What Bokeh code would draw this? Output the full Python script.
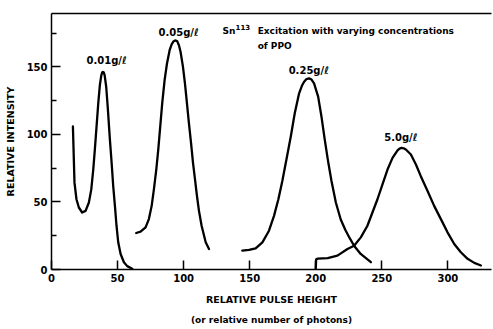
from bokeh.plotting import figure
from bokeh.models import Range1d, LinearAxis, FixedTicker, Label, Title, ColumnDataSource
from bokeh.core.properties import value
from bokeh.embed import file_html
from bokeh.resources import INLINE

FONT = "DejaVu Sans"

# 0.01 g/l
c1_x = [16.2, 17.4, 18.9, 20.7, 23.2, 25.8, 28.3, 30.1, 31.6, 32.8, 34.1, 35.4, 36.6, 37.6, 38.3, 38.9,
        39.6, 40.2, 41.4, 42.7, 44.2, 45.5, 46.7, 48.0, 49.2, 50.5, 52.3, 54.8, 57.3, 61.1]
c1_y = [105.9, 64.3, 52.0, 45.9, 42.2, 43.4, 49.6, 59.3, 74.0, 88.8, 105.9, 123.1, 136.5, 143.2, 145.7, 146.3,
        145.8, 143.9, 135.3, 118.2, 96.1, 79.0, 61.8, 47.1, 32.4, 20.1, 11.5, 5.4, 2.5, 0.5]
# 0.05 g/l
c2_x = [64.1, 67.4, 71.2, 73.7, 75.8, 77.5, 79.3, 80.8, 82.3, 83.8, 85.6, 87.4, 89.4, 91.0, 92.5, 93.9,
        95.2, 96.5, 97.7, 99.5, 101.0, 102.5, 104.0, 105.6, 107.1, 108.6, 110.1, 111.6, 113.6, 116.7, 119.2]
c2_y = [27.0, 28.0, 31.2, 37.3, 47.1, 59.3, 74.0, 88.8, 105.9, 123.1, 140.2, 152.5, 162.3, 166.8, 169.0, 169.6,
        168.9, 165.8, 161.0, 150.0, 137.8, 123.1, 108.4, 93.7, 79.0, 66.7, 54.4, 43.4, 32.4, 20.1, 15.2]
# 0.25 g/l
c3_x = [144.4, 149.5, 154.5, 159.6, 164.6, 168.4, 171.7, 174.7, 177.8, 181.1, 184.1, 187.4, 189.5, 191.2, 193.0,
        194.9, 196.8, 198.7, 201.8, 204.3, 206.8, 209.3, 211.9, 215.2, 218.9, 222.5, 225.8, 229.0, 234.0, 241.7]
c3_y = [14.0, 14.5, 15.7, 20.1, 28.7, 39.7, 52.0, 65.5, 81.4, 98.5, 115.7, 130.4, 136.0, 139.0, 141.0,
        141.5, 140.6, 137.8, 128.0, 113.3, 96.1, 80.2, 65.5, 49.6, 37.0, 29.0, 23.0, 17.6, 11.5, 5.4]
# 5.0 g/l
c4_x = [200.0, 200.3, 201.5, 209.0, 216.4, 224.0, 229.0, 234.1, 239.1, 242.9, 246.7, 250.5, 254.3, 258.1,
        261.9, 263.4, 264.9, 266.5, 268.2, 272.0, 275.8, 279.5, 284.6, 289.6, 294.7, 299.7, 304.8, 309.8,
        314.9, 320.0, 325.0]
c4_y = [0.5, 7.6, 8.0, 8.4, 10.3, 15.2, 17.6, 23.8, 32.4, 42.2, 52.0, 63.0, 74.0, 82.6,
        88.2, 89.5, 90.0, 89.7, 88.8, 85.1, 77.7, 69.1, 58.1, 47.1, 37.3, 27.5, 18.9, 12.8,
        7.9, 4.9, 3.0]

x_ticks = [0, 50, 100, 150, 200, 250, 300]
y_ticks = [0, 50, 100, 150]
y_minor = [25, 75, 125, 175]

peak_text = ["0.01g/\u2113", "0.05g/\u2113", "0.25g/\u2113", "5.0g/\u2113"]
peak_x = [41.7, 96.2, 194.7, 264.4]
peak_y = [155.0, 175.5, 147.6, 97.5]

p = figure(width=493, height=329, output_backend="svg", toolbar_location=None,
           x_range=Range1d(0, 333), y_range=Range1d(0, 189.5),
           min_border_left=51, min_border_right=2, min_border_top=13, min_border_bottom=58)
p.outline_line_color = None
p.grid.visible = False

for xs, ys in [(c1_x, c1_y), (c2_x, c2_y), (c3_x, c3_y), (c4_x, c4_y)]:
    p.line(xs, ys, line_color="black", line_width=2.3, line_join="round", line_cap="round")

def style_axis(ax):
    ax.axis_line_width = 1.5
    ax.axis_line_color = "black"
    ax.major_tick_in = 9
    ax.major_tick_out = 0
    ax.major_tick_line_width = 1.5
    ax.minor_tick_in = 5
    ax.minor_tick_out = 0
    ax.minor_tick_line_width = 1.5
    ax.major_label_text_font = FONT
    ax.major_label_text_font_style = "bold"
    ax.major_label_text_font_size = "10px"
    ax.major_label_text_color = "black"
    ax.axis_label_text_font = FONT
    ax.axis_label_text_font_style = "bold"
    ax.axis_label_text_font_size = "9.5px"
    ax.axis_label_text_color = "black"

xa = p.xaxis[0]
style_axis(xa)
xa.ticker = FixedTicker(ticks=x_ticks)
xa.major_label_standoff = 4
xa.axis_label = "RELATIVE PULSE HEIGHT"
xa.axis_label_standoff = 9

ya = p.yaxis[0]
style_axis(ya)
ya.ticker = FixedTicker(ticks=y_ticks, minor_ticks=y_minor)
ya.major_label_standoff = 4
ya.axis_label = "RELATIVE INTENSITY"
ya.axis_label_standoff = 8

top = LinearAxis(ticker=FixedTicker(ticks=[]), major_label_text_font_size="0px",
                 axis_line_width=1.5, major_tick_in=0, major_tick_out=0,
                 minor_tick_in=0, minor_tick_out=0)
p.add_layout(top, "above")

sub = Title(text="(or relative number of photons)", align="center", text_font=FONT,
            text_font_style="bold", text_font_size="9px", text_color="black")
p.add_layout(sub, "below")

src = ColumnDataSource(dict(x=peak_x, y=peak_y, t=peak_text))
p.text(x="x", y="y", text="t", source=src, text_font=value(FONT), text_font_style="bold",
       text_font_size="10px", text_align="center", text_baseline="middle", text_color="black")

lab = dict(text_font=FONT, text_font_style="bold", text_baseline="middle", text_color="black")
p.add_layout(Label(x=129.5, y=176.5, text="Sn", text_font_size="9px", **lab))
p.add_layout(Label(x=139.3, y=179.5, text="113", text_font_size="7px", **lab))
p.add_layout(Label(x=156, y=176.5, text="Excitation with varying concentrations",
                   text_font_size="9px", **lab))
p.add_layout(Label(x=156, y=165.2, text="of PPO", text_font_size="9px", **lab))

open("out.html", "w").write(file_html(p, INLINE))
